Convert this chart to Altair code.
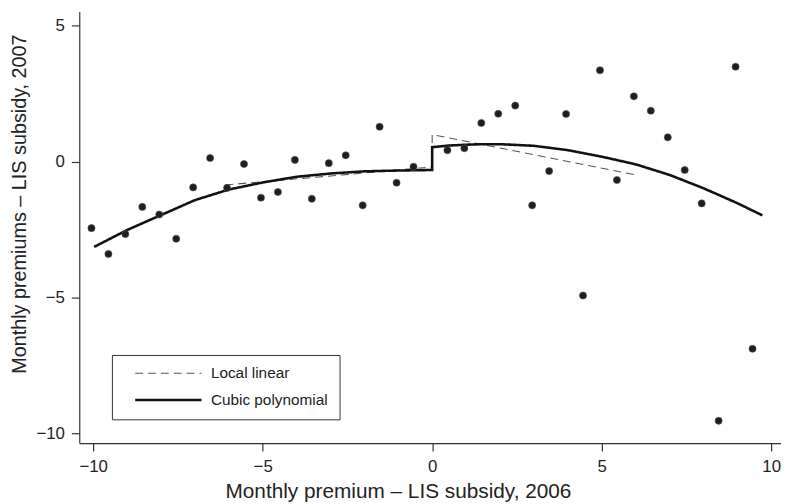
import altair as alt
import pandas as pd

# Binned scatter (x = monthly premium - LIS subsidy 2006, y = same for 2007)
pt_x = [-10.05, -9.55, -9.05, -8.55, -8.05, -7.55, -7.05, -6.55, -6.05, -5.55,
        -5.05, -4.55, -4.05, -3.55, -3.05, -2.55, -2.05, -1.55, -1.05, -0.55,
        0.45, 0.95, 1.45, 1.95, 2.45, 2.95, 3.45, 3.95, 4.45, 4.95,
        5.45, 5.95, 6.45, 6.95, 7.45, 7.95, 8.45, 8.95, 9.45]
pt_y = [-2.45, -3.40, -2.67, -1.67, -1.95, -2.84, -0.95, 0.13, -0.97, -0.09,
        -1.33, -1.12, 0.06, -1.37, -0.06, 0.23, -1.61, 1.28, -0.78, -0.19,
        0.42, 0.49, 1.42, 1.76, 2.06, -1.61, -0.35, 1.75, -4.93, 3.36,
        -0.68, 2.40, 1.87, 0.89, -0.31, -1.54, -9.54, 3.49, -6.89]

# Local linear fit (left piece, jump at 0, right piece)
ll_x = [-6.1, -3.0, 0.0, 0.0, 3.0, 5.95]
ll_y = [-0.86, -0.53, -0.20, 0.99, 0.25, -0.48]

# Cubic polynomial fit (left piece, jump at 0, right piece)
cp_x = [-9.97, -9.0, -8.0, -7.0, -6.0, -5.0, -4.0, -3.0, -2.0, -1.0, 0.0,
        0.0, 0.5, 1.0, 1.5, 2.0, 3.0, 4.0, 5.0, 6.0, 7.0, 8.0, 9.0, 9.74]
cp_y = [-3.14, -2.52, -1.97, -1.42, -1.03, -0.77, -0.56, -0.44, -0.36, -0.33, -0.31,
        0.53, 0.59, 0.62, 0.64, 0.64, 0.58, 0.42, 0.18, -0.10, -0.49, -0.98, -1.53, -1.98]

series_names = ["Local linear", "Cubic polynomial"]

pts = pd.DataFrame({"x": pt_x, "y": pt_y})
lines = pd.concat([
    pd.DataFrame({"x": ll_x, "y": ll_y, "fit": series_names[0], "ord": range(len(ll_x))}),
    pd.DataFrame({"x": cp_x, "y": cp_y, "fit": series_names[1], "ord": range(len(cp_x))}),
])

FONT = "Liberation Sans"
xscale = alt.Scale(domain=[-10.41, 10.29], nice=False, zero=False)
yscale = alt.Scale(domain=[-10.36, 5.52], nice=False, zero=False)

xaxis = alt.Axis(values=[-10, -5, 0, 5, 10], title="Monthly premium – LIS subsidy, 2006",
                 titleX=322, titleY=55, titleAlign="center", titleBaseline="alphabetic",
                 titleFontSize=21)
yaxis = alt.Axis(values=[-10, -5, 0, 5], title="Monthly premiums – LIS subsidy, 2007",
                 titleX=-54.5, titleY=194, titleAngle=270, titleAlign="center",
                 titleBaseline="alphabetic", titleFontSize=20)

leg = alt.Legend(title=None, orient="none", legendX=33, legendY=347,
                 padding=11, symbolOffset=11, strokeColor="#333",
                 fillColor="white", labelFontSize=15.5, labelFont=FONT,
                 labelColor="#222", symbolType="stroke", symbolSize=4489,
                 symbolStrokeWidth=1.5, clipHeight=15, rowPadding=11,
                 labelOffset=8)

points = alt.Chart(pts).mark_circle(size=52, color="#1e1e1e", opacity=1,
                                     stroke="#555", strokeWidth=0.6).encode(
    x=alt.X("x:Q", scale=xscale, axis=xaxis),
    y=alt.Y("y:Q", scale=yscale, axis=yaxis),
)

fits = alt.Chart(lines).mark_line(strokeCap="butt", strokeJoin="miter").encode(
    x=alt.X("x:Q", scale=xscale),
    y=alt.Y("y:Q", scale=yscale),
    order="ord:Q",
    color=alt.Color("fit:N", scale=alt.Scale(domain=series_names, range=["#555555", "#111111"]),
                    legend=leg),
    strokeDash=alt.StrokeDash("fit:N", scale=alt.Scale(domain=series_names, range=[[8, 5], [1, 0]]),
                              legend=leg),
    strokeWidth=alt.StrokeWidth("fit:N", scale=alt.Scale(domain=series_names, range=[1.1, 2.6]),
                                legend=None),
)

chart = alt.layer(fits, points).properties(
    width=709, height=436,
    autosize=alt.AutoSizeParams(type="none"),
    padding={"left": 72, "top": 1, "right": 0, "bottom": 64},
).configure_view(stroke=None).configure_axis(
    grid=False, domainColor="#333", tickColor="#333", domainWidth=1.2, tickWidth=1.2,
    tickSize=8, labelFont=FONT, labelFontSize=17, labelColor="#222", labelPadding=6,
    titleFont=FONT, titleFontWeight="normal", titleColor="#222",
).configure_axisX(labelPadding=8).configure_axisY(labelPadding=7)

chart.save("out.html", embed_options={"renderer": "svg", "actions": False})
